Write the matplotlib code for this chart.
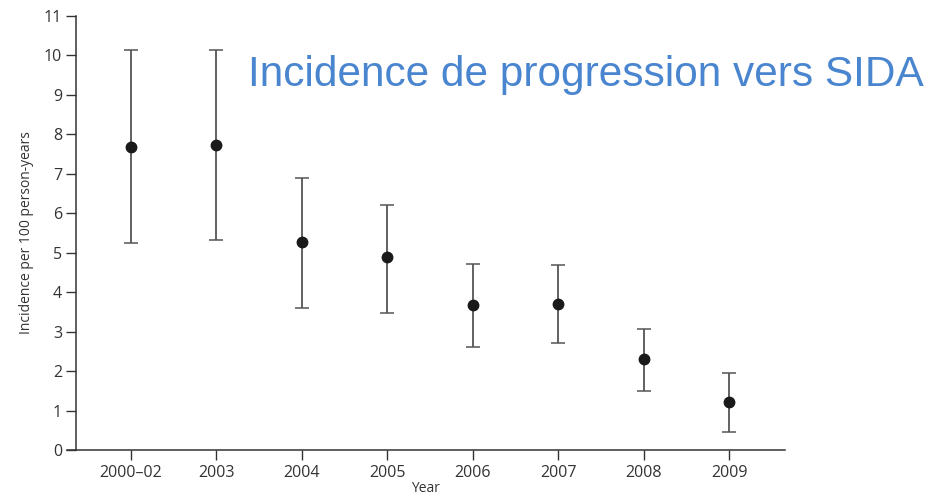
import matplotlib.pyplot as plt
import numpy as np

# incidence per 100 person-years with 95% CI
periods = ["2000\u201302", "2003", "2004", "2005", "2006", "2007", "2008", "2009"]
incidence = [7.68, 7.73, 5.27, 4.89, 3.68, 3.70, 2.31, 1.22]
ci_low = [5.25, 5.32, 3.60, 3.47, 2.61, 2.71, 1.50, 0.46]
ci_high = [10.14, 10.14, 6.89, 6.21, 4.71, 4.69, 3.07, 1.95]

plt.rcParams['font.family'] = ['Open Sans', 'DejaVu Sans']

fig = plt.figure(figsize=(9.45, 4.96), dpi=100)
ax = fig.add_axes([67 / 945, 46 / 496, (785 - 67) / 945, (450 - 16) / 496])

x = np.arange(len(periods))
inc = np.array(incidence)
yerr = [inc - np.array(ci_low), np.array(ci_high) - inc]

ax.errorbar(x, inc, yerr=yerr, fmt='o', color='#1a1a1a', ecolor='#555555',
            elinewidth=1.3, capsize=5, capthick=1.1, markersize=7.5)

ax.set_xlim(-0.745, 7.65)
ax.set_ylim(0, 11)
ax.set_xticks(x)
ax.set_xticklabels(periods)
ax.set_yticks(range(0, 12))

ax.spines['top'].set_visible(False)
ax.spines['right'].set_visible(False)
ax.spines['left'].set_position(('data', -0.64))
for s in ('left', 'bottom'):
    ax.spines[s].set_color('#333333')
    ax.spines[s].set_linewidth(1.1)

ax.tick_params(axis='both', colors='#333333', labelsize=11.5, width=1.0, length=7)
ax.tick_params(axis='y', pad=3)
ax.tick_params(axis='x', pad=4)

ax.set_ylabel("Incidence per 100 person-years", fontsize=10, color='#333333', labelpad=7)
ax.set_xlabel("Year", fontsize=10, color='#333333', labelpad=0)

fig.text(248 / 945, 1 - 75 / 496, "Incidence de progression vers SIDA",
         fontsize=30.5, color='#4a86cf', family='Liberation Sans', va='center', ha='left')

fig.savefig("out.png", dpi=100)
